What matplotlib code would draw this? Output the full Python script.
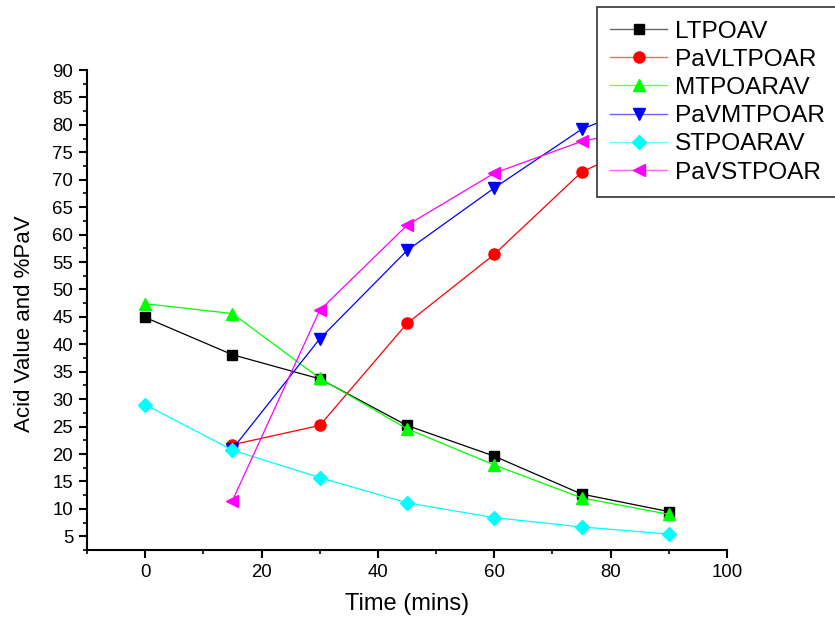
import numpy as np
import matplotlib
matplotlib.use('Agg')
import matplotlib.pyplot as plt
from matplotlib.colors import to_rgb
from matplotlib.ticker import MultipleLocator

plt.rcParams['font.family'] = ['Liberation Sans', 'DejaVu Sans']

time = [0, 15, 30, 45, 60, 75, 90]
time_pav = [15, 30, 45, 60, 75, 90]

ltpoav = [44.9, 38.1, 33.7, 25.2, 19.6, 12.7, 9.5]
pav_ltpoar = [21.7, 25.2, 43.8, 56.4, 71.4, 78.8]
mtpoarav = [47.4, 45.6, 33.8, 24.6, 18.0, 12.0, 9.0]
pav_mtpoar = [20.9, 41.0, 57.1, 68.5, 79.2, 85.6]
stpoarav = [29.0, 20.7, 15.7, 11.1, 8.4, 6.7, 5.4]
pav_stpoar = [11.5, 46.2, 61.7, 71.2, 77.0, 80.2]

series = [
    ('LTPOAV', time, ltpoav, 'black', 's'),
    ('PaVLTPOAR', time_pav, pav_ltpoar, 'red', 'o'),
    ('MTPOARAV', time, mtpoarav, '#00ff00', '^'),
    ('PaVMTPOAR', time_pav, pav_mtpoar, 'blue', 'v'),
    ('STPOARAV', time, stpoarav, 'cyan', 'D'),
    ('PaVSTPOAR', time_pav, pav_stpoar, 'magenta', '<'),
]
sizes = {'s': 7.5, 'o': 8, '^': 9, 'v': 9, 'D': 7, '<': 9}

fig = plt.figure(figsize=(8.35, 6.17), dpi=100)
ax = fig.add_axes([0.1042, 0.1086, 0.7665, 0.7779])

for name, x, y, c, m in series:
    ax.plot(x, y, color=c, lw=0.9, marker=m, ms=sizes[m], mec=c, mfc=c, label=name)

ax.set_xlim(-10, 100)
ax.set_ylim(2.5, 90)
ax.xaxis.set_minor_locator(MultipleLocator(10))
ax.yaxis.set_minor_locator(MultipleLocator(2.5))
ax.set_xticks([0, 20, 40, 60, 80, 100])
ax.set_yticks(np.arange(5, 91, 5))

for s in ['top', 'right']:
    ax.spines[s].set_visible(False)
for s in ['left', 'bottom']:
    ax.spines[s].set_linewidth(1.5)
ax.tick_params(which='major', direction='out', length=6, width=1.5, labelsize=13.4, pad=4)
ax.tick_params(which='minor', direction='out', length=3, width=1.2)

ax.set_xlabel('Time (mins)', fontsize=17, labelpad=9)
ax.set_ylabel('Acid Value and %PaV', fontsize=16)
ax.yaxis.set_label_coords(-0.081, 0.472)

leg = fig.legend(loc='upper left', bbox_to_anchor=(597 / 835, 1 - 7 / 617),
                 fontsize=17.6, frameon=True, fancybox=False, framealpha=1,
                 edgecolor='#333333', handlelength=2.3, handletextpad=0.35,
                 labelspacing=0.25, borderpad=0.55, borderaxespad=0, numpoints=1)
leg.get_frame().set_linewidth(1.2)
# lighter connecting line in the legend keys, solid markers
for h, (_, _, _, c, _) in zip(leg.legend_handles, series):
    r, g, b = to_rgb(c)
    light = (r + (1 - r) * 0.4, g + (1 - g) * 0.4, b + (1 - b) * 0.4)
    h.set_color(light)
    h.set_linewidth(1.0)

fig.savefig('out.png', dpi=100)
